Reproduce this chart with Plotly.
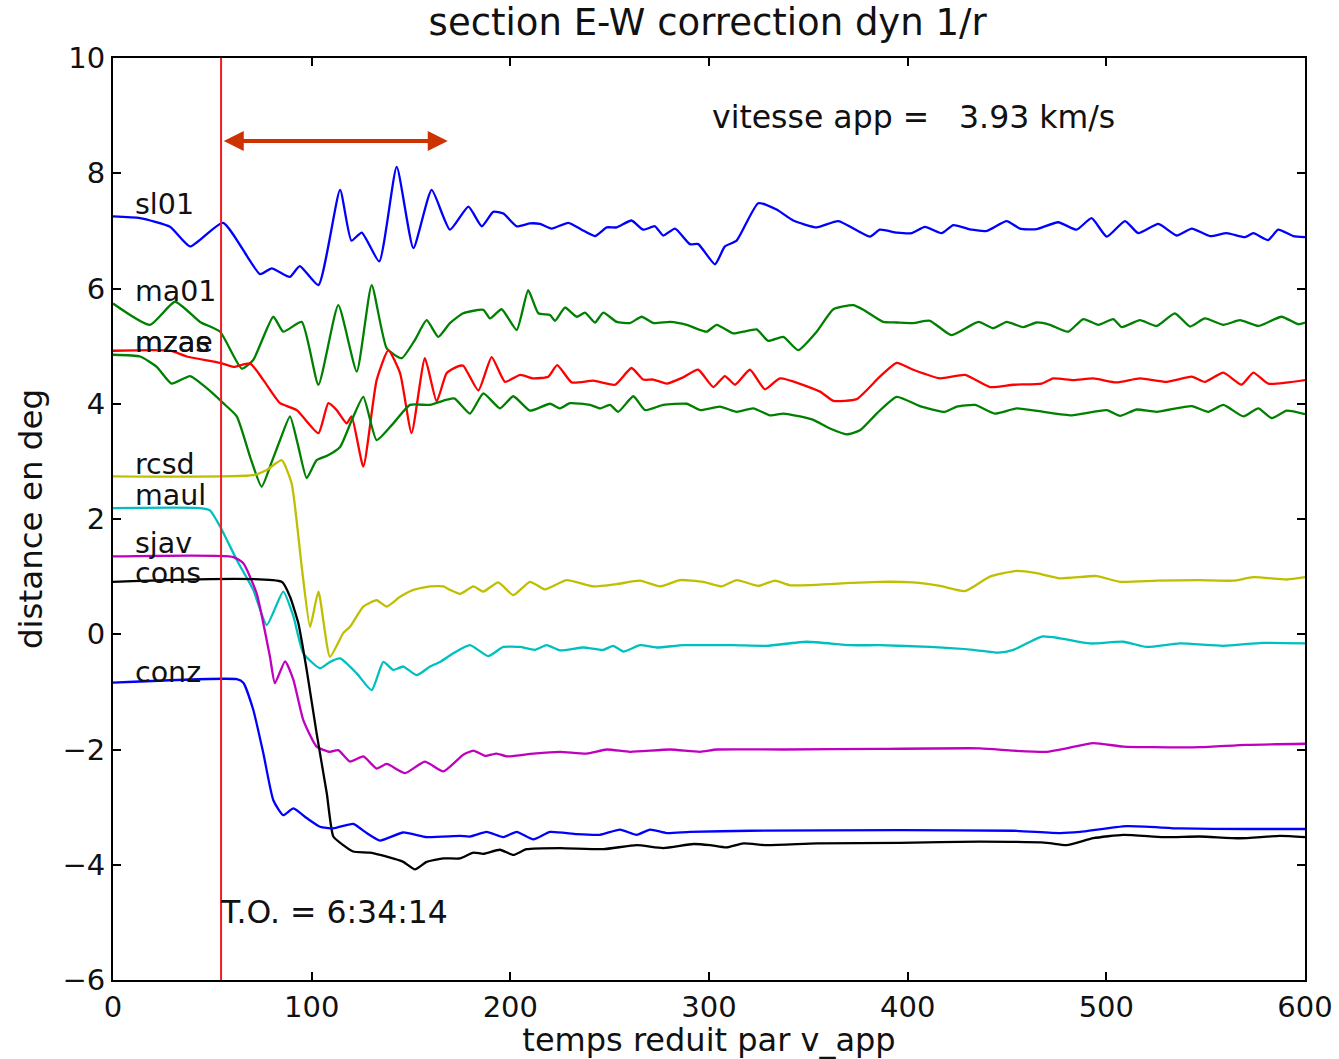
import plotly.graph_objects as go

# ---------------- data ----------------
sl01_t = [0, 13.6, 28.7, 38.8, 55.4, 74, 79.9, 89, 94, 103.4, 114.3, 120, 125.2, 134, 142.8, 151.2, 160.4, 169.6,
          178.9, 185.6, 191.4, 196.5, 203.2, 209.9, 214.9, 220.8, 229.2, 235.9, 242.6, 248.5, 253.5, 261, 266.9,
          272.8, 277, 282.9, 290.4, 294.6, 303, 308, 313.9, 324.8, 334, 342.4, 354.2, 365.1, 381, 386, 394.5, 402,
          408.7, 417.1, 423, 432.3, 439.8, 449.8, 456.5, 464.9, 475.8, 485, 492.6, 500.2, 509.4, 516.1, 526.2,
          535.4, 543, 552.2, 560.6, 569.8, 574, 581.5, 586.5, 594.1, 600]
sl01_v = [7.25, 7.22, 7.07, 6.73, 7.14, 6.25, 6.35, 6.2, 6.39, 6.06, 7.71, 6.83, 6.97, 6.47, 8.11, 6.70, 7.71, 7.02,
          7.42, 7.08, 7.33, 7.30, 7.08, 7.13, 7.12, 7.04, 7.14, 7.02, 6.91, 7.06, 7.06, 7.18, 7.02,
          7.08, 6.92, 7.04, 6.77, 6.77, 6.42, 6.73, 6.83, 7.48, 7.37, 7.18, 7.06, 7.17, 6.90, 7.02, 6.97, 6.96,
          7.07, 6.96, 7.10, 7.02, 7.0, 7.17, 7.04, 7.03, 7.15, 7.02, 7.22, 6.90, 7.17, 6.96, 7.12,
          6.92, 7.04, 6.91, 6.96, 6.89, 6.96, 6.84, 7.02, 6.91, 6.89]

ma01_t = [0, 18.6, 31.2, 43.8, 53.9, 64.8, 70.6, 80.7, 85.7, 95, 103.4, 113.4, 122.7, 130.2, 137.8, 145.3, 152,
          157.9, 163.7, 169.6, 176.3, 186.4, 189.8, 195.6, 203.2, 209, 214.1, 220, 222.5, 227.5, 233.4, 237.6,
          242.6, 246.8, 253.5, 260.2, 266.1, 272, 280.4, 288.8, 298.8, 303.9, 312.2, 317.3, 324, 329.8, 337.4,
          344.9, 354.2, 362.6, 372.6, 377.7, 387.7, 394.5, 402.8, 411.2, 422.1, 435.6, 443.1, 449.8, 458.2,
          464.9, 471.6, 480.8, 488.4, 496, 503.5, 507.7, 516.9, 525.3, 534.5, 542.1, 549.6, 558.9, 567.3, 576.5,
          588.2, 596.6, 600]
ma01_v = [5.74, 5.37, 5.77, 5.42, 5.25, 4.61, 4.76, 5.51, 5.25, 5.42, 4.33, 5.71, 4.56, 6.06, 4.96, 4.79, 5.11,
          5.45, 5.16, 5.40, 5.57, 5.63, 5.48, 5.64, 5.28, 5.97, 5.57, 5.54, 5.44, 5.67, 5.51, 5.58,
          5.41, 5.58, 5.42, 5.40, 5.51, 5.40, 5.42, 5.37, 5.25, 5.37, 5.22, 5.25, 5.29, 5.09, 5.16,
          4.93, 5.25, 5.64, 5.71, 5.63, 5.42, 5.41, 5.40, 5.44, 5.19, 5.42, 5.31, 5.42, 5.33,
          5.41, 5.37, 5.25, 5.47, 5.37, 5.47, 5.33, 5.45, 5.35, 5.57, 5.34, 5.48, 5.37, 5.45, 5.35,
          5.51, 5.38, 5.41]

mzas_t = [0, 28.7, 37.1, 53.9, 60.6, 69, 75.7, 84.1, 92.5, 103.4, 108.4, 112.6, 117.6, 120.1, 126, 132.7, 138.6,
          144.5, 150.3, 157, 162.9, 167.9, 173, 176.3, 183.9, 190.6, 197.3, 204.9, 211.6, 219.1, 223.6, 230.9,
          241.8, 252.7, 261, 266.9, 272, 278.7, 287.1, 294.6, 302.2, 308, 313.1, 320.6, 328.2, 335.7, 355.9,
          362.6, 374.3, 386, 394.5, 402.8, 416.3, 428.9, 441.4, 453.2, 467.5, 473.3, 483.4, 493.4, 505.2, 516.9,
          530.4, 543, 549.6, 558.9, 568.1, 574, 581.5, 600]
mzas_v = [4.92, 4.92, 4.82, 4.71, 4.64, 4.70, 4.41, 4.01, 3.89, 3.49, 4.01, 3.89, 3.66, 3.78, 2.91, 4.41, 4.93,
          4.53, 3.49, 4.79, 4.04, 4.53, 4.64, 4.66, 4.23, 4.81, 4.38, 4.50, 4.44, 4.47, 4.67, 4.37,
          4.40, 4.33, 4.62, 4.42, 4.42, 4.35, 4.46, 4.59, 4.29, 4.48, 4.33, 4.59, 4.25, 4.44, 4.21,
          4.05, 4.08, 4.47, 4.71, 4.59, 4.44, 4.50, 4.29, 4.33, 4.35, 4.44, 4.41, 4.44, 4.37, 4.44,
          4.38, 4.47, 4.38, 4.54, 4.33, 4.54, 4.35, 4.41]

mzae_t = [0, 13.6, 22, 29.5, 38.8, 47.2, 55.5, 62.3, 69, 74.8, 80, 84.1, 89.1, 93, 97.5, 102.5, 108, 114.3, 120,
          126, 132.7, 141.1, 149.5, 159.6, 168, 172, 179.7, 186.4, 194.8, 201.5, 209.9, 220, 225, 230, 240.1,
          245.1, 250.2, 254.3, 261.9, 267.8, 277, 288.8, 295.5, 305.5, 313.9, 322.3, 330.7, 337.4, 345.8, 352.5,
          360.9, 369.3, 376, 384.4, 394.5, 406.1, 418.8, 424.7, 433.9, 443.9, 454.9, 468.3, 482.6, 500.2, 506.9,
          515.3, 525.3, 543, 551.3, 558.9, 569, 576.5, 583.3, 590.8, 600]
mzae_v = [4.85, 4.82, 4.64, 4.35, 4.48, 4.27, 4.01, 3.78, 3.08, 2.56, 3.0, 3.37, 3.78, 3.3, 2.71, 3.02, 3.1, 3.25, 3.7,
          4.12, 3.37, 3.66, 3.98, 3.98, 4.07, 4.09, 3.83, 4.18, 3.92, 4.13, 3.88, 4.0, 3.92, 4.01, 3.98,
          3.92, 3.98, 3.86, 4.13, 3.89, 3.98, 4.0, 3.89, 3.95, 3.86, 3.92, 3.80, 3.83, 3.78, 3.72,
          3.57, 3.47, 3.54, 3.83, 4.12, 3.96, 3.86, 3.95, 3.98, 3.83, 3.92, 3.86, 3.80, 3.89, 3.79,
          3.90, 3.86, 3.96, 3.86, 3.98, 3.78, 3.92, 3.75, 3.88, 3.82]

rcsd_t = [0, 70.6, 77.4, 84.9, 89.9, 95, 99.2, 103.4, 109.2, 115.9, 119.3, 126, 132.7, 137.8, 144.5, 151.2, 159.6,
          166.3, 169.6, 174.7, 181.4, 186.4, 193.9, 201.5, 209.9, 217.4, 228.4, 241.8, 253.5, 265.3, 275.3, 285.4,
          297.1, 306.4, 313.9, 324.8, 333.2, 340.8, 371, 386, 402.8, 416.3, 428.9, 441.4, 454.9, 464.9, 476.7,
          495.1, 506.9, 525.3, 547.2, 563.9, 574, 590.8, 600]
rcsd_v = [2.74, 2.76, 2.85, 3.02, 2.62, 1.17, 0.13, 0.74, -0.39, 0.02, 0.13, 0.48, 0.59, 0.48, 0.65, 0.77, 0.83,
          0.83, 0.77, 0.70, 0.83, 0.74, 0.90, 0.68, 0.91, 0.78, 0.94, 0.83, 0.87, 0.93, 0.83, 0.94,
          0.91, 0.83, 0.94, 0.84, 0.93, 0.85, 0.89, 0.91, 0.90, 0.84, 0.75, 1.0, 1.10, 1.06, 0.97,
          1.01, 0.91, 0.93, 0.94, 0.93, 0.99, 0.95, 0.99]

maul_t = [0, 43.8, 48.8, 53.9, 62.3, 70.6, 77.4, 85.7, 90.8, 95.8, 104.2, 109.2, 114.3, 122.7, 130.2, 136.1, 141.1,
          146.1, 152.9, 159.6, 164.6, 171.3, 179.7, 188.9, 196.5, 204.9, 212.4, 218.3, 225, 236.7, 246.8, 251.8,
          256.9, 265.3, 273.7, 287.1, 312.2, 329, 349.2, 371, 386, 411.2, 433, 445.6, 453.2, 467.5, 476.7, 491.8,
          508.5, 520.3, 537, 558.9, 578.6, 600]
maul_v = [2.19, 2.19, 2.15, 1.87, 1.29, 0.77, 0.16, 0.74, 0.31, -0.33, -0.59, -0.48, -0.42, -0.68, -0.97, -0.48, -0.62,
          -0.56, -0.71, -0.56, -0.48, -0.33, -0.19, -0.38, -0.22, -0.22, -0.27, -0.19, -0.28, -0.23, -0.27, -0.20,
          -0.30, -0.19, -0.23, -0.19, -0.19, -0.20, -0.13, -0.19, -0.19, -0.22, -0.27, -0.32, -0.27, -0.04, -0.07, -0.16,
          -0.13, -0.22, -0.16, -0.20, -0.15, -0.16]

sjav_t = [0, 60.6, 65.6, 72.3, 79, 81.5, 86.6, 90.8, 95.8, 102.5, 109.2, 113.4, 119.3, 126, 132.7, 137.8, 147, 157,
          166.3, 176.3, 181.4, 187.3, 193.1, 198.2, 211.6, 225, 238.4, 248.5, 260.2, 280.4, 295.5, 303.9, 337.4,
          386, 436.4, 453.2, 470, 480, 493.4, 508.5, 523.6, 547.2, 570.6, 600]
sjav_v = [1.35, 1.34, 1.23, 0.71, -0.39, -0.85, -0.47, -0.79, -1.49, -1.95, -2.04, -2.01, -2.21, -2.12, -2.33, -2.25,
          -2.41, -2.21, -2.38, -2.09, -2.02, -2.11, -2.07, -2.12, -2.07, -2.04, -2.07, -2.0, -2.04, -2.0, -2.04,
          -2.0, -2.0, -1.99, -1.98, -2.02, -2.04, -1.98, -1.89, -1.95, -1.96, -1.96, -1.92, -1.90]

cons_t = [0, 84.9, 89.1, 93.3, 97.5, 102.5, 107.6, 110.9, 115.9, 120.9, 129.4, 137.8, 146.1, 152, 157.9, 166.3,
          174.7, 181.4, 186.4, 194.8, 201.5, 208.2, 225, 246.8, 263.6, 277, 292.1, 300.5, 308.9, 317.3, 329,
          354.2, 396.1, 436.4, 470, 480, 493.4, 508.5, 528.7, 547.2, 567.3, 587.4, 600]
cons_v = [0.91, 0.91, 0.65, 0.19, -0.62, -1.72, -2.76, -3.51, -3.66, -3.77, -3.79, -3.86, -3.95, -4.08, -3.95, -3.89,
          -3.89, -3.79, -3.81, -3.74, -3.83, -3.73, -3.71, -3.73, -3.66, -3.71, -3.64, -3.66, -3.70, -3.63, -3.66,
          -3.63, -3.62, -3.60, -3.62, -3.66, -3.54, -3.48, -3.52, -3.51, -3.54, -3.50, -3.52]

conz_t = [0, 62.3, 65.6, 70.6, 75.7, 80.7, 85.7, 90.8, 97.5, 104.2, 110.9, 120.9, 127.7, 134.4, 146.1, 157.9, 174.7,
          179.7, 188.1, 196.5, 203.2, 211.6, 220, 233.4, 245.1, 255.2, 263.6, 270.3, 278.7, 290.4, 320.6, 396.1,
          453.2, 476.7, 486.7, 510.2, 537, 570.6, 600]
conz_v = [-0.84, -0.78, -0.84, -1.31, -2.07, -2.88, -3.14, -3.02, -3.19, -3.34, -3.37, -3.29, -3.45, -3.58, -3.44,
          -3.52, -3.50, -3.51, -3.43, -3.52, -3.43, -3.56, -3.43, -3.47, -3.48, -3.39, -3.48, -3.39, -3.45, -3.43,
          -3.41, -3.40, -3.41, -3.45, -3.43, -3.33, -3.37, -3.38, -3.38]

station_names = ["sl01", "ma01", "mzas", "mzae", "rcsd", "maul", "sjav", "cons", "conz"]
station_colors = ["#0000ff", "#008000", "#ff0000", "#008000", "#bfbf00", "#00bfbf", "#bf00bf", "#000000", "#0000ff"]
station_t = [sl01_t, ma01_t, mzas_t, mzae_t, rcsd_t, maul_t, sjav_t, cons_t, conz_t]
station_v = [sl01_v, ma01_v, mzas_v, mzae_v, rcsd_v, maul_v, sjav_v, cons_v, conz_v]

# station label positions (data coords)
label_t = [10, 10, 10, 10, 10, 10, 10, 10, 10]
label_v = [7.45, 5.94, 5.07, 5.07, 2.94, 2.40, 1.58, 1.06, -0.67]

origin_time = 54.4          # T.O. vertical line
arrow_start, arrow_end, arrow_level = 55.0, 168.5, 8.56

x_ticks = [0, 100, 200, 300, 400, 500, 600]
y_ticks = [-6, -4, -2, 0, 2, 4, 6, 8, 10]

FONT = "DejaVu Sans, Bitstream Vera Sans, sans-serif"
TXT = "#111"

fig = go.Figure()
for name, col, tt, vv in zip(station_names, station_colors, station_t, station_v):
    assert len(tt) == len(vv), name
    fig.add_trace(go.Scatter(x=tt, y=vv, mode="lines", name=name,
                             line=dict(color=col, width=2.3, shape="spline", smoothing=0.5),
                             hoverinfo="x+y+name"))

# vertical origin line
fig.add_shape(type="line", x0=origin_time, x1=origin_time, y0=-6, y1=10, xref="x", yref="y",
              line=dict(color="#ee1c25", width=2))

# double headed arrow
fig.add_annotation(x=arrow_end, y=arrow_level, ax=arrow_start, ay=arrow_level, xref="x", yref="y",
                   axref="x", ayref="y", text="", showarrow=True, arrowhead=2, arrowside="end+start",
                   arrowsize=1.0, arrowwidth=4, arrowcolor="#cc3300")

for name, lt, lv in zip(station_names, label_t, label_v):
    fig.add_annotation(x=lt, y=lv, xref="x", yref="y", text=name, showarrow=False,
                       xanchor="left", yanchor="middle", font=dict(family=FONT, size=28.5, color=TXT))

fig.add_annotation(x=52.8, y=-4.82, xref="x", yref="y", text="T.O. = 6:34:14", showarrow=False,
                   xanchor="left", yanchor="middle", font=dict(family=FONT, size=31.5, color=TXT))
fig.add_annotation(x=300.5, y=8.98, xref="x", yref="y",
                   text="vitesse app =\u00a0\u00a0 3.93 km/s", showarrow=False,
                   xanchor="left", yanchor="middle", font=dict(family=FONT, size=31.5, color=TXT))

axis_common = dict(showgrid=False, zeroline=False, showline=True, linecolor="black", linewidth=2,
                   mirror="ticks", ticks="inside", ticklen=8, tickwidth=1.5, tickcolor="black",
                   tickfont=dict(family=FONT, size=29, color=TXT))

fig.update_xaxes(range=[0, 600], tickvals=x_ticks, **axis_common,
                 title=dict(text="temps reduit par v_app", font=dict(family=FONT, size=32, color=TXT),
                            standoff=2))
fig.update_yaxes(range=[-6, 10], tickvals=y_ticks, **axis_common,
                 title=dict(text="distance en deg", font=dict(family=FONT, size=32.5, color=TXT),
                            standoff=10))

fig.update_layout(
    width=1339, height=1059,
    margin=dict(l=113, r=34, t=58, b=79, autoexpand=False),
    paper_bgcolor="white", plot_bgcolor="white",
    showlegend=False,
    title=dict(text="section E-W correction dyn 1/r", x=0.5285, xanchor="center",
               y=1 - 22 / 1059, yanchor="middle", font=dict(family=FONT, size=37, color=TXT)),
)

fig.write_html("out.html")
